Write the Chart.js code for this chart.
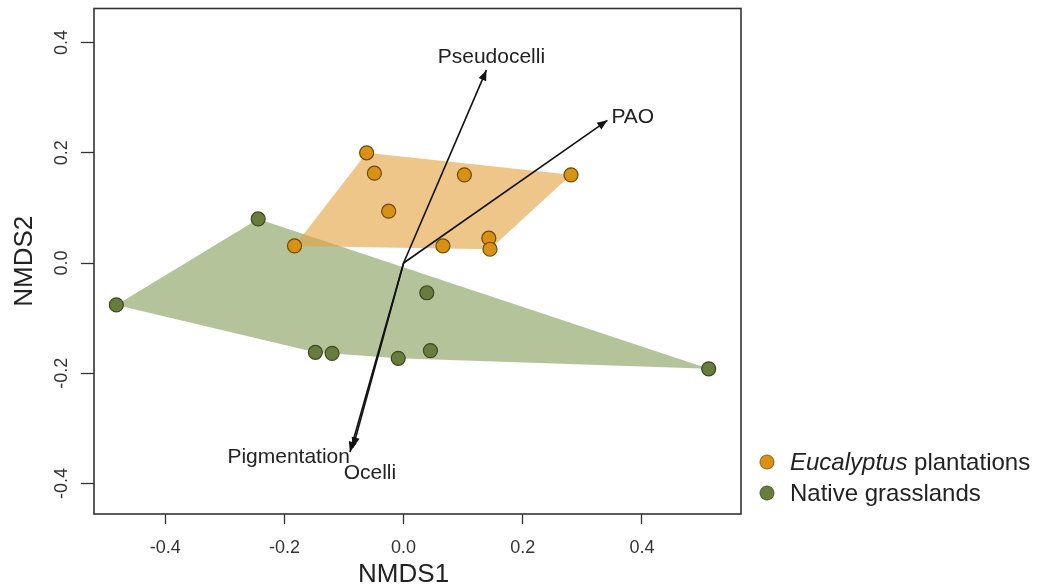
<!DOCTYPE html>
<html>
<head>
<meta charset="utf-8">
<script src="https://cdn.jsdelivr.net/npm/chart.js@4"></script>
<style>
  html, body { margin: 0; padding: 0; background: #fff; }
</style>
</head>
<body>
<canvas id="nmdsChart" width="1042" height="584"></canvas>
<script>
// site scores
const euX = [-0.062, -0.049, 0.102, 0.281, -0.025, -0.183, 0.066, 0.143, 0.145];
const euY = [0.200, 0.163, 0.160, 0.160, 0.094, 0.031, 0.031, 0.045, 0.025];
const grX = [-0.244, -0.482, 0.039, -0.148, -0.120, -0.009, 0.045, 0.512];
const grY = [0.080, -0.076, -0.054, -0.162, -0.164, -0.173, -0.159, -0.192];

// trait vectors (envfit arrows)
const vecNames = ["Pseudocelli", "PAO", "Pigmentation", "Ocelli"];
const vecX = [0.139, 0.342, -0.090, -0.085];
const vecY = [0.350, 0.259, -0.343, -0.335];

const xTicks = [-0.4, -0.2, 0, 0.2, 0.4];
const yTicks = [-0.4, -0.2, 0, 0.2, 0.4];
const groups = ["Eucalyptus plantations", "Native grasslands"];

const FONT = '"Liberation Sans", Arial, sans-serif';
const EU_COL = "#D99114", GR_COL = "#687C3E";

function fmt(v) { return Math.abs(v) < 1e-9 ? "0.0" : v.toFixed(1); }

function hull(pts) {
  pts = pts.slice().sort((a, b) => a[0] - b[0] || a[1] - b[1]);
  const cross = (o, a, b) => (a[0] - o[0]) * (b[1] - o[1]) - (a[1] - o[1]) * (b[0] - o[0]);
  const lo = [], up = [];
  for (const p of pts) {
    while (lo.length > 1 && cross(lo[lo.length - 2], lo[lo.length - 1], p) <= 0) lo.pop();
    lo.push(p);
  }
  for (const p of pts.slice().reverse()) {
    while (up.length > 1 && cross(up[up.length - 2], up[up.length - 1], p) <= 0) up.pop();
    up.push(p);
  }
  return lo.slice(0, -1).concat(up.slice(0, -1));
}

// label placement relative to arrow tip (px)
const labelPos = {
  Pseudocelli: { align: "center", dx: 5, dy: -7 },
  PAO: { align: "left", dx: 4, dy: 3 },
  Pigmentation: { align: "right", dx: 0, dy: 11 },
  Ocelli: { align: "center", dx: 17, dy: 31 }
};

const nmdsPlugin = {
  id: "nmds",
  beforeDatasetsDraw(chart) {
    const { ctx, chartArea: a, scales: { x, y } } = chart;
    ctx.save();
    ctx.beginPath(); ctx.rect(a.left, a.top, a.width, a.height); ctx.clip();
    [[grX, grY, "rgba(125,152,80,0.58)"], [euX, euY, "rgba(228,160,60,0.6)"]].forEach(([xs, ys, col]) => {
      const h = hull(xs.map((v, i) => [v, ys[i]]));
      ctx.beginPath();
      h.forEach(([px, py], i) => {
        const X = x.getPixelForValue(px), Y = y.getPixelForValue(py);
        i ? ctx.lineTo(X, Y) : ctx.moveTo(X, Y);
      });
      ctx.closePath();
      ctx.fillStyle = col;
      ctx.fill();
    });
    ctx.restore();
  },
  afterDatasetsDraw(chart) {
    const { ctx, scales: { x, y } } = chart;
    const ox = x.getPixelForValue(0), oy = y.getPixelForValue(0);
    ctx.save();
    ctx.strokeStyle = "#111"; ctx.fillStyle = "#111"; ctx.lineWidth = 1.6;
    vecNames.forEach((name, i) => {
      const tx = x.getPixelForValue(vecX[i]), ty = y.getPixelForValue(vecY[i]);
      const ang = Math.atan2(ty - oy, tx - ox);
      ctx.beginPath(); ctx.moveTo(ox, oy); ctx.lineTo(tx, ty); ctx.stroke();
      const L = 11, w = 0.38;
      ctx.beginPath();
      ctx.moveTo(tx, ty);
      ctx.lineTo(tx - L * Math.cos(ang - w), ty - L * Math.sin(ang - w));
      ctx.lineTo(tx - L * Math.cos(ang + w), ty - L * Math.sin(ang + w));
      ctx.closePath(); ctx.fill();
      const lp = labelPos[name];
      ctx.font = "21px " + FONT;
      ctx.fillStyle = "#222";
      ctx.textAlign = lp.align; ctx.textBaseline = "alphabetic";
      ctx.fillText(name, tx + lp.dx, ty + lp.dy);
      ctx.fillStyle = "#111";
    });
    ctx.restore();
  },
  afterDraw(chart) {
    const { ctx, chartArea: a, scales: { x, y } } = chart;
    ctx.save();
    ctx.strokeStyle = "#333"; ctx.lineWidth = 1.6;
    ctx.strokeRect(a.left, a.top, a.width, a.height);

    ctx.fillStyle = "#333";
    ctx.font = "18px " + FONT;
    ctx.textBaseline = "alphabetic"; ctx.textAlign = "center";
    x.ticks.forEach(t => ctx.fillText(fmt(t.value), x.getPixelForValue(t.value), 553));
    y.ticks.forEach(t => {
      ctx.save();
      ctx.translate(67, y.getPixelForValue(t.value));
      ctx.rotate(-Math.PI / 2);
      ctx.fillText(fmt(t.value), 0, 0);
      ctx.restore();
    });

    ctx.fillStyle = "#222";
    ctx.font = "26px " + FONT;
    ctx.fillText("NMDS1", x.getPixelForValue(0), 582);
    ctx.save();
    ctx.translate(32, (a.top + a.bottom) / 2);
    ctx.rotate(-Math.PI / 2);
    ctx.fillText("NMDS2", 0, 0);
    ctx.restore();

    // legend
    const cols = [EU_COL, GR_COL], strokes = ["#8a5e10", "#4a5a2a"];
    ctx.textAlign = "left";
    groups.forEach((g, i) => {
      const cy = 462 + i * 31;
      ctx.beginPath(); ctx.arc(767, cy, 7, 0, Math.PI * 2);
      ctx.fillStyle = cols[i]; ctx.fill();
      ctx.lineWidth = 1; ctx.strokeStyle = strokes[i]; ctx.stroke();
      ctx.fillStyle = "#222";
      const parts = g.split(" ");
      if (i === 0) {
        ctx.font = "italic 24px " + FONT;
        ctx.fillText(parts[0], 790, cy + 8);
        const w = ctx.measureText(parts[0] + " ").width;
        ctx.font = "24px " + FONT;
        ctx.fillText(parts.slice(1).join(" "), 790 + w, cy + 8);
      } else {
        ctx.font = "24px " + FONT;
        ctx.fillText(g, 790, cy + 8);
      }
    });
    ctx.restore();
  }
};

const axisCommon = (ticksArr, len) => ({
  type: "linear",
  afterBuildTicks: s => { s.ticks = ticksArr.map(v => ({ value: v })); },
  ticks: { display: false, callback: fmt },
  grid: { drawOnChartArea: false, drawTicks: true, tickLength: len, tickColor: "#333", tickWidth: 1.3 },
  border: { display: false }
});

new Chart(document.getElementById("nmdsChart"), {
  type: "scatter",
  data: {
    datasets: [
      {
        label: groups[0],
        data: euX.map((v, i) => ({ x: v, y: euY[i] })),
        backgroundColor: EU_COL, borderColor: "#6b4a00", borderWidth: 1.2, pointRadius: 7
      },
      {
        label: groups[1],
        data: grX.map((v, i) => ({ x: v, y: grY[i] })),
        backgroundColor: GR_COL, borderColor: "#3b4a1e", borderWidth: 1.2, pointRadius: 7
      }
    ]
  },
  options: {
    responsive: false,
    animation: false,
    layout: { padding: { left: 0, right: 301, top: 8.5, bottom: 0 } },
    plugins: { legend: { display: false }, tooltip: { enabled: false } },
    scales: {
      x: Object.assign(axisCommon(xTicks, 10), { min: -0.5195, max: 0.5662, afterFit: s => { s.height = 70; } }),
      y: Object.assign(axisCommon(yTicks, 13), { min: -0.4555, max: 0.4619, afterFit: s => { s.width = 94; } })
    }
  },
  plugins: [nmdsPlugin]
});
</script>
</body>
</html>
